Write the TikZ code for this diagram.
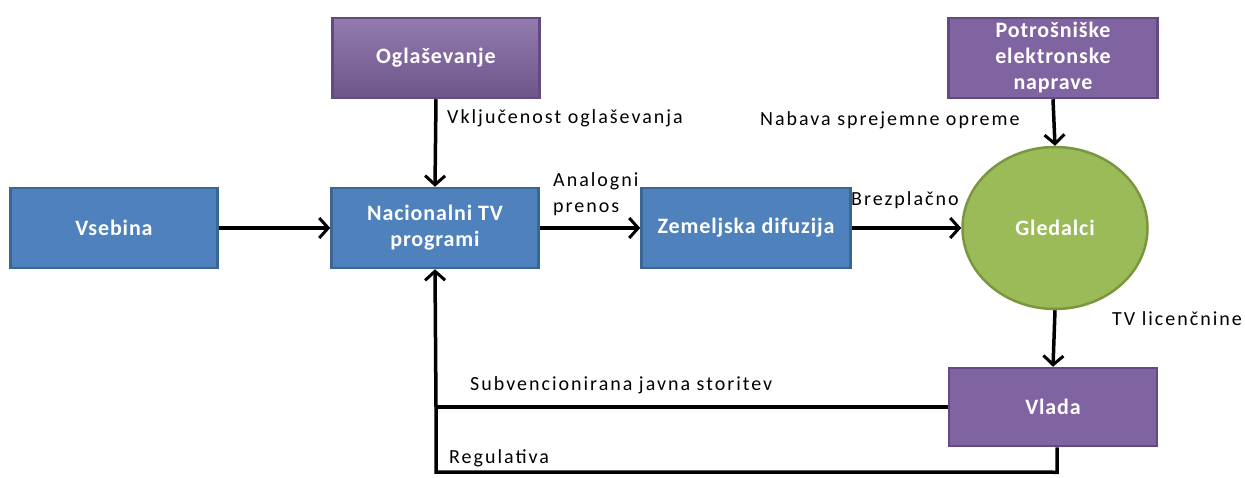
\documentclass[tikz,border=0pt]{standalone}
\usepackage{fontspec}
\setmainfont{Carlito}
\newfontfamily\blockfont[LetterSpace=4]{Carlito}
\newfontfamily\notefont[LetterSpace=10]{Carlito}
\usetikzlibrary{arrows.meta,shapes.geometric,calc}
\definecolor{boxblue}{HTML}{4F81BD}
\definecolor{edgeblue}{HTML}{3A6696}
\definecolor{boxpurple}{HTML}{8064A2}
\definecolor{edgepurple}{HTML}{624B80}
\definecolor{boxgreen}{HTML}{9BBB59}
\definecolor{edgegreen}{HTML}{7A963F}
\tikzset{
  x=1pt, y=-1pt,
  blockbase/.style={rectangle, line width=2.5pt, minimum width=207pt, minimum height=80pt,
    text=white, font=\blockfont\fontsize{22}{26}\selectfont\bfseries, align=center, inner sep=2pt},
  bluebox/.style={blockbase, fill=boxblue, draw=edgeblue},
  purplebox/.style={blockbase, fill=boxpurple, draw=edgepurple},
  flow/.style={line width=3.5pt, -{Straight Barb[length=9pt,width=20pt,line width=3pt]}},
  plain/.style={line width=3.5pt},
  flowlabel/.style={font=\notefont\fontsize{20}{26}\selectfont, text=black, inner sep=0pt, align=left}
}
\begin{document}
\begin{tikzpicture}
\useasboundingbox (0,0) rectangle (1245,478);

% blocks
\node[bluebox] (vseb) at (114,228) {Vsebina};
\node[bluebox] (nac) at (435,228) {Nacionalni TV\\programi};
\node[purplebox, top color=boxpurple!85!white, bottom color=boxpurple!85!black] (ogl) at (436,58) {Ogla\v{s}evanje};
\node[bluebox, minimum width=209pt] (zem) at (746,228) {Zemeljska difuzija};
\node[ellipse, fill=boxgreen, draw=edgegreen, line width=2.5pt, minimum width=185pt, minimum height=162pt,
  text=white, font=\blockfont\fontsize{22}{26}\selectfont\bfseries] (gled) at (1055,228) {Gledalci};
\node[purplebox, minimum width=209pt] (potr) at (1053,58) {Potro\v{s}ni\v{s}ke\\elektronske\\naprave};
\node[purplebox, minimum width=208pt, minimum height=78pt] (vlada) at (1053,407) {Vlada};

% connectors
\draw[flow] (vseb.east) -- (nac.west);
\draw[flow] (ogl.south) -- (nac.north);
\draw[flow] (nac.east) -- (zem.west);
\draw[flow] (zem.east) -- (gled.west);
\draw[flow] (potr.south) -- (gled.north);
\draw[flow] (gled.south) -- (vlada.north);
\coordinate (subv) at (436,407);
\coordinate (regA) at ($(vlada.south)+(4,25)$);
\draw[plain] (vlada.west) -- (subv);
\draw[plain] (vlada.south -| regA) -- (regA) -- (436,472) -- (subv);
\draw[flow] (subv) -- (nac.south);

% labels
\node[flowlabel, anchor=west] (l1) at (447,118) {Vklju\v{c}enost ogla\v{s}evanja};
\node[flowlabel, anchor=south west] (l2) at (553,216) {Analogni\\prenos};
\node[flowlabel, anchor=west] (l3) at (851,200) {Brezpla\v{c}no};
\node[flowlabel, anchor=west] (l4) at (760,120) {Nabava sprejemne opreme};
\node[flowlabel, anchor=west] (l5) at (1112,319) {TV licen\v{c}nine};
\node[flowlabel, anchor=west] (l6) at (470,385) {Subvencionirana javna storitev};
\node[flowlabel, anchor=west] (l7) at (449,458) {Regulativa};
\end{tikzpicture}
\end{document}
